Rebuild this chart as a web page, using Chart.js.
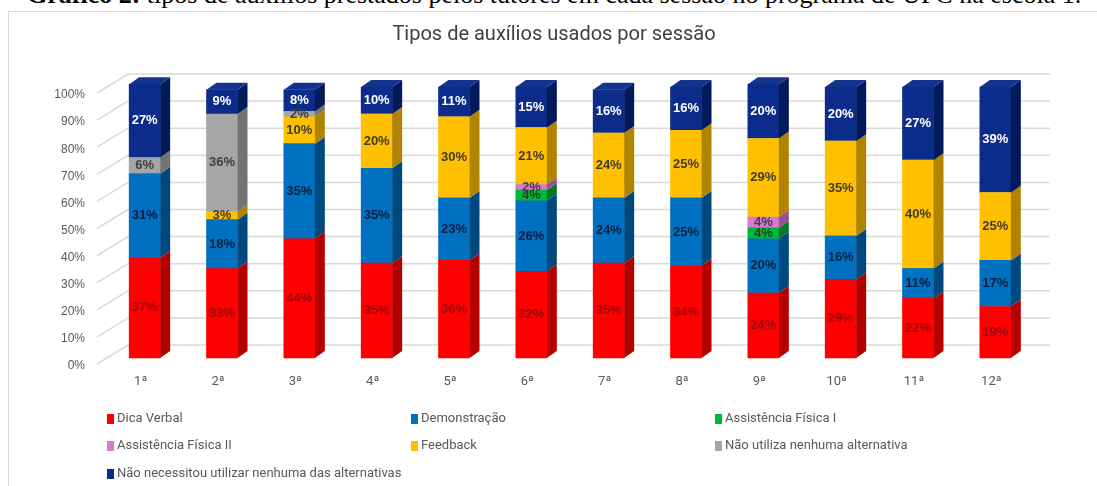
<!DOCTYPE html>
<html>
<head>
<meta charset="utf-8">
<script src="https://cdn.jsdelivr.net/npm/chart.js@4.4.1/dist/chart.umd.min.js"></script>
<style>
  body { margin: 0; background: #fff; }
  #wrap { position: relative; width: 1097px; height: 486px; overflow: hidden; }
  #caption {
    position: absolute; left: 27px; top: -20px; white-space: nowrap;
    font: 26px/30px 'Liberation Serif', 'DejaVu Serif', serif; color: #000;
  }
  #box { position: absolute; left: 8px; top: 11px; width: 1120px; height: 520px; border: 1px solid #D9D9D9; background: #fff; }
  canvas { position: absolute; left: 0; top: 0; }
</style>
</head>
<body>
<div id="wrap">
  <div id="caption"><b>Gráfico 2:</b> tipos de auxílios prestados pelos tutores em cada sessão no programa de UPC na escola 1.</div>
  <div id="box"></div>
  <canvas id="chart" width="1097" height="486"></canvas>
</div>
<script>
// sessões
const sessions = ['1ª', '2ª', '3ª', '4ª', '5ª', '6ª', '7ª', '8ª', '9ª', '10ª', '11ª', '12ª'];

// % por tipo de auxílio (de baixo para cima na pilha)
const dicaVerbal      = [37, 33, 44, 35, 36, 32, 35, 34, 24, 29, 22, 19];
const demonstracao    = [31, 18, 35, 35, 23, 26, 24, 25, 20, 16, 11, 17];
const assistFisicaI   = [0, 0, 0, 0, 0, 4, 0, 0, 4, 0, 0, 0];
const assistFisicaII  = [0, 0, 0, 0, 0, 2, 0, 0, 4, 0, 0, 0];
const feedback        = [0, 3, 10, 20, 30, 21, 24, 25, 29, 35, 40, 25];
const naoUtiliza      = [6, 36, 2, 0, 0, 0, 0, 0, 0, 0, 0, 0];
const naoNecessitou   = [27, 9, 8, 10, 11, 15, 16, 16, 20, 20, 27, 39];

const yTicks = [0, 10, 20, 30, 40, 50, 60, 70, 80, 90, 100];

const chartTitle = 'Tipos de auxílios usados por sessão';

const sans = "'Roboto', sans-serif";
const greyText = '#595959';

// frente, lateral, topo, cor do rótulo
const series = [
  { label: 'Dica Verbal', data: dicaVerbal, color: '#FF0000', side: '#B50000', top: '#E00000', text: '#9A0A0A' },
  { label: 'Demonstração', data: demonstracao, color: '#0070C0', side: '#00497F', top: '#0062A8', text: '#0B1F3F' },
  { label: 'Assistência Física I', data: assistFisicaI, color: '#00B837', side: '#007A25', top: '#00A030', text: '#234223' },
  { label: 'Assistência Física II', data: assistFisicaII, color: '#D67AD0', side: '#9A4E96', top: '#C46CBE', text: '#4A3A4A' },
  { label: 'Feedback', data: feedback, color: '#FFC000', side: '#B08400', top: '#E8AE00', text: '#3F3A2A' },
  { label: 'Não utiliza nenhuma alternativa', data: naoUtiliza, color: '#A6A6A6', side: '#737373', top: '#B8B8B8', text: '#404040' },
  { label: 'Não necessitou utilizar nenhuma das alternativas', data: naoNecessitou, color: '#0C2C8C', side: '#001A5C', top: '#12348F', text: '#FFFFFF' }
];

const DX = 10, DY = -7;

const backWall = {
  id: 'backWall',
  beforeDatasetsDraw(chart) {
    const ctx = chart.ctx;
    const y = chart.scales.y;
    const left = chart.chartArea.left;
    ctx.save();
    ctx.strokeStyle = '#D9D9D9';
    ctx.lineWidth = 1.5;
    yTicks.forEach(v => {
      const py = y.getPixelForValue(v);
      ctx.beginPath();
      ctx.moveTo(left - 9, py + 6);
      ctx.lineTo(left + 22, py - 13);
      ctx.lineTo(chart.chartArea.right + 16, py - 13);
      ctx.stroke();
    });
    ctx.restore();
  }
};

const bars3d = {
  id: 'bars3d',
  afterDatasetsDraw(chart) {
    const ctx = chart.ctx;
    ctx.save();
    sessions.forEach((_, i) => {
      let topEl = null, topIdx = -1;
      series.forEach((s, d) => {
        if (!s.data[i]) return;
        const el = chart.getDatasetMeta(d).data[i];
        const t = Math.min(el.y, el.base), b = Math.max(el.y, el.base);
        const r = el.x + el.width / 2;
        ctx.fillStyle = s.side;
        ctx.beginPath();
        ctx.moveTo(r, t);
        ctx.lineTo(r + DX, t + DY);
        ctx.lineTo(r + DX, b + DY);
        ctx.lineTo(r, b);
        ctx.closePath();
        ctx.fill();
        topEl = el; topIdx = d;
      });
      if (topEl) {
        const t = Math.min(topEl.y, topEl.base);
        const l = topEl.x - topEl.width / 2, r = topEl.x + topEl.width / 2;
        ctx.fillStyle = series[topIdx].top;
        ctx.beginPath();
        ctx.moveTo(l, t);
        ctx.lineTo(l + DX, t + DY);
        ctx.lineTo(r + DX, t + DY);
        ctx.lineTo(r, t);
        ctx.closePath();
        ctx.fill();
      }
    });

    // rótulos de dados
    ctx.font = "bold 13px 'Liberation Sans', Arial, sans-serif";
    ctx.textAlign = 'center';
    ctx.textBaseline = 'middle';
    series.forEach((s, d) => {
      chart.getDatasetMeta(d).data.forEach((el, i) => {
        const v = s.data[i];
        if (!v) return;
        ctx.fillStyle = s.text;
        ctx.fillText(v + '%', el.x, (el.y + el.base) / 2);
      });
    });
    ctx.restore();
  }
};

// título + legenda em 3 colunas
const titleAndLegend = {
  id: 'titleAndLegend',
  afterDraw(chart) {
    const ctx = chart.ctx;
    ctx.save();
    ctx.font = '20px ' + sans;
    ctx.fillStyle = '#404040';
    ctx.textAlign = 'center';
    ctx.textBaseline = 'middle';
    ctx.fillText(chartTitle, 554, 35);

    const cols = [107, 411, 715];
    const rows = [419, 446, 474];
    ctx.font = '13px ' + sans;
    ctx.textAlign = 'left';
    series.forEach((s, k) => {
      const x = cols[k % 3], y = rows[Math.floor(k / 3)];
      ctx.fillStyle = s.color;
      ctx.fillRect(x, y - 5, 7, 10);
      ctx.fillStyle = greyText;
      ctx.fillText(s.label, x + 10, y);
    });
    ctx.restore();
  }
};

new Chart(document.getElementById('chart'), {
  type: 'bar',
  data: {
    labels: sessions,
    datasets: series.map(s => ({
      label: s.label,
      data: s.data,
      backgroundColor: s.color,
      borderWidth: 0,
      barThickness: 31,
      clip: false
    }))
  },
  options: {
    responsive: false,
    animation: false,
    layout: { padding: { top: 87, right: 63, bottom: 0, left: 0 } },
    plugins: {
      legend: { display: false },
      tooltip: { enabled: false },
      title: { display: false }
    },
    scales: {
      x: {
        stacked: true,
        grid: { display: false, drawTicks: false },
        border: { display: false },
        ticks: { padding: 16, labelOffset: -4, color: greyText, font: { family: sans, size: 13 } },
        afterFit(s) { s.height = 128; }
      },
      y: {
        stacked: true,
        min: 0,
        max: 100,
        grid: { display: false, drawTicks: false },
        border: { display: false },
        ticks: {
          stepSize: 10,
          padding: 21,
          labelOffset: 8,
          color: greyText,
          font: { family: "'Liberation Sans', Arial, sans-serif", size: 12 },
          callback: v => v + '%'
        },
        afterFit(s) { s.width = 106; }
      }
    }
  },
  plugins: [backWall, bars3d, titleAndLegend]
});
</script>
</body>
</html>
